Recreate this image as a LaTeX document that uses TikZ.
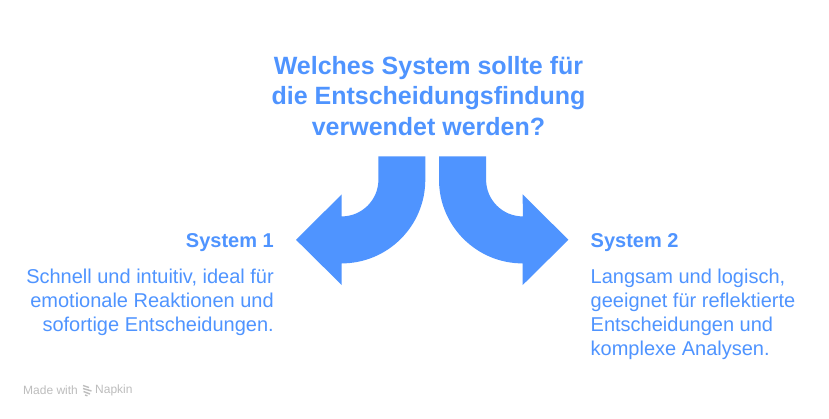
\documentclass[tikz,border=0pt]{standalone}
\usepackage{fontspec}
\setmainfont{Liberation Sans}
\definecolor{napkinblue}{HTML}{4F94FF}
\definecolor{napkingray}{HTML}{BDBDBD}
\tikzset{
    titletext/.style={text=napkinblue, align=center, inner sep=0pt, font=\fontsize{25}{30.5}\selectfont\bfseries},
    headtext/.style={text=napkinblue, inner sep=0pt, font=\fontsize{20}{24}\selectfont\bfseries},
    bodytext/.style={text=napkinblue, inner sep=0pt, font=\fontsize{20}{24}\selectfont},
    marktext/.style={text=napkingray, inner sep=0pt, font=\fontsize{12}{14}\selectfont},
}
\begin{document}
\begin{tikzpicture}[x=1pt, y=-1pt]
        \def\r{36.7}    % inner radius
        \def\R{83.7}    % outer radius

        \useasboundingbox (0,0) rectangle (829,418);
        \fill[white] (0,0) rectangle (829,418);

        % left arrow
        \fill[napkinblue] (378.3,156.3) -- (425.3,156.3) -- (425.3,179.7)
            arc[start angle=0, end angle=90, radius=\R] -- (341.7,285) -- (296,239.8) -- (341.7,194.4) -- (341.7,216.4)
            arc[start angle=90, end angle=0, radius=\r] -- cycle;

        % right arrow
        \fill[napkinblue] (439.1,156.3) -- (486.1,156.3) -- (486.1,179.7)
            arc[start angle=180, end angle=90, radius=\r] -- (522.7,194.4) -- (568.4,239.8) -- (522.7,285) -- (522.7,263.4)
            arc[start angle=90, end angle=180, radius=\R] -- cycle;

        % texts
        \node[titletext] (title) at (428.5,96) {Welches System sollte für\\die Entscheidungsfindung\\verwendet werden?};

        \node[headtext, anchor=east] (headone) at (274,243) {System 1};
        \node[bodytext, anchor=north east, align=right] (bodyone) at (274,269) {Schnell und intuitiv, ideal für\\emotionale Reaktionen und\\sofortige Entscheidungen.};

        \node[headtext, anchor=west] (headtwo) at (590.5,243) {System 2};
        \node[bodytext, anchor=north west, align=left] (bodytwo) at (590.5,269) {Langsam und logisch,\\geeignet für reflektierte\\Entscheidungen und\\komplexe Analysen.};

        % footer
        \node[marktext, anchor=west] (madewith) at (23,390.5) {Made with};
        \node[marktext, anchor=west] (napkin) at (95,390.5) {Napkin};
        \draw[napkingray, line width=1.4pt] (83,385.5) -- (89,387.5) (83,388.5) -- (91.5,391) (83.5,391.5) -- (90,394) (85,395) -- (87.5,395.8);
\end{tikzpicture}
\end{document}
